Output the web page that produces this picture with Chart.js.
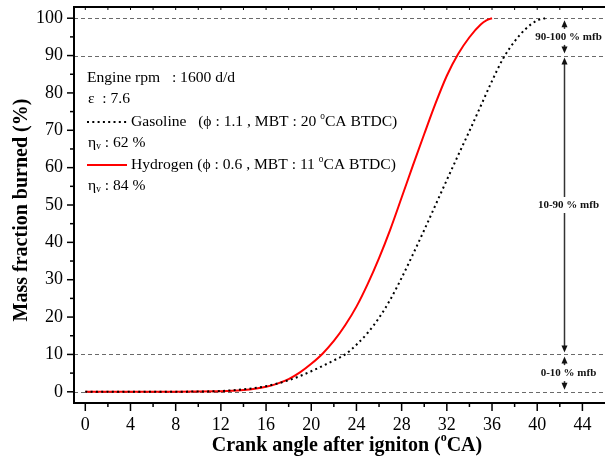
<!DOCTYPE html>
<html><head><meta charset="utf-8">
<script src="https://cdn.jsdelivr.net/npm/chart.js@4.4.0/dist/chart.umd.min.js"></script>
<style>html,body{margin:0;padding:0;background:#fff;overflow:hidden}</style>
</head><body>
<canvas id="c" width="605" height="459"></canvas>
<script>
// ---- data ----
const hydrogenAngles = [0,2,4,6,8,10,12,13,14,15,16,17,18,19,20,21,22,23,24,25,26,27,28,29,30,31,32,33,34,35,35.5,36];
const hydrogenMfb    = [0,0,0,0,0,0.05,0.15,0.25,0.45,0.8,1.35,2.2,3.4,5.2,7.5,10.2,13.6,17.8,22.8,28.9,35.8,43.5,52.0,60.6,69.0,77.2,84.6,90.4,94.9,98.3,99.4,100];
const gasolineAngles = [0,2,4,6,8,10,12,13,14,15,16,17,18,19,20,21,22,23,24,25,26,27,28,29,30,31,32,33,34,35,36,37,38,39,40,40.7];
const gasolineMfb    = [0,0,0,0,0.02,0.08,0.2,0.4,0.65,1.0,1.5,2.2,3.1,4.2,5.5,6.9,8.4,10.0,12.6,15.8,19.8,24.7,30.5,36.8,43.3,50.0,56.7,63.3,69.8,76.5,83.2,89.3,93.8,97.2,99.4,100];
const xTickLabels = [0,4,8,12,16,20,24,28,32,36,40,44];
const xMinorTicks = [2,6,10,14,18,22,26,30,34,38,42];
const yTickLabels = [0,10,20,30,40,50,60,70,80,90,100];
const yMinorTicks = [5,15,25,35,45,55,65,75,85,95];
const refLines = [0,10,90,100];
const phaseBands = [[100,90,'90-100 % mfb'],[90,10,'10-90 % mfb'],[10,0,'0-10 % mfb']];
const bandAngle = 42.4;

const SERIF = '"Liberation Serif","Times New Roman",serif';

function drawRich(ctx, x, y, parts, size, weight){
  let cx = x;
  parts.forEach(p=>{
    let s = size, dy = 0;
    if (p.sup){ s = size*0.6; dy = -size*0.38; }
    if (p.sub){ s = size*0.6; dy = size*0.25; }
    ctx.font = (weight||'normal')+' '+s+'px '+SERIF;
    ctx.fillText(p.t, cx, y+dy);
    cx += ctx.measureText(p.t).width;
  });
  return cx;
}
function richWidth(ctx, parts, size, weight){
  let w=0;
  parts.forEach(p=>{
    const s = (p.sup||p.sub)? size*0.6 : size;
    ctx.font = (weight||'normal')+' '+s+'px '+SERIF;
    w += ctx.measureText(p.t).width;
  });
  return w;
}

const deco = {
  id:'deco',
  beforeDatasetsDraw(chart){
    const {ctx, chartArea:a, scales:{y}} = chart;
    ctx.save();
    ctx.strokeStyle='#6a6a6a'; ctx.lineWidth=1; ctx.setLineDash([4,3]);
    refLines.forEach(v=>{
      const py = Math.round(y.getPixelForValue(v))+0.5;
      ctx.beginPath(); ctx.moveTo(a.left,py); ctx.lineTo(a.right,py); ctx.stroke();
    });
    ctx.restore();
  },
  afterDraw(chart){
    const {ctx, chartArea:a, scales:{x,y}} = chart;
    ctx.save();
    // frame
    ctx.strokeStyle='#000'; ctx.lineWidth=2; ctx.setLineDash([]);
    ctx.beginPath();
    ctx.moveTo(a.right+2, a.top); ctx.lineTo(a.left, a.top); ctx.lineTo(a.left, a.bottom); ctx.lineTo(a.right+2, a.bottom);
    ctx.stroke();
    // ticks
    ctx.lineWidth=1.5;
    const tick=(x1,y1,x2,y2)=>{ctx.beginPath();ctx.moveTo(x1,y1);ctx.lineTo(x2,y2);ctx.stroke();};
    yTickLabels.forEach(v=>{const p=y.getPixelForValue(v); tick(a.left,p,a.left-7,p);});
    yMinorTicks.forEach(v=>{const p=y.getPixelForValue(v); tick(a.left,p,a.left-4,p);});
    xTickLabels.forEach(v=>{const p=x.getPixelForValue(v); tick(p,a.bottom,p,a.bottom+8);});
    xMinorTicks.forEach(v=>{const p=x.getPixelForValue(v); tick(p,a.bottom,p,a.bottom+4);});
    ctx.lineWidth=1;
    xTickLabels.concat(xMinorTicks).forEach(v=>{const p=x.getPixelForValue(v); tick(p,a.top,p,a.top+3);});

    // phase bands with double arrows
    const bx = Math.round(x.getPixelForValue(bandAngle))+0.5;
    ctx.strokeStyle='#333'; ctx.fillStyle='#111'; ctx.lineWidth=1.5;
    ctx.textAlign='center'; ctx.textBaseline='middle';
    ctx.font='bold 11px '+SERIF;
    const head=(px,py,dir)=>{ // dir -1 up, +1 down ; tip at py
      ctx.beginPath(); ctx.moveTo(px,py); ctx.lineTo(px-3,py-dir*7); ctx.lineTo(px+3,py-dir*7); ctx.closePath(); ctx.fill();
    };
    phaseBands.forEach(([hi,lo,label])=>{
      const pt = y.getPixelForValue(hi)+2, pb = y.getPixelForValue(lo)-2;
      const pm = (pt+pb)/2;
      tick(bx,pt+4,bx,pm-8); tick(bx,pm+8,bx,pb-4);
      head(bx,pt,-1); head(bx,pb,1);
      ctx.fillText(label, bx+4, pm);
    });

    // legend block
    ctx.fillStyle='#000'; ctx.textAlign='left'; ctx.textBaseline='middle';
    const L=87, fs=15.6;
    drawRich(ctx, L, 78, [{t:'Engine rpm   : 1600 d/d'}], fs);
    drawRich(ctx, L+1, 99, [{t:'\u03b5  : 7.6'}], fs);
    ctx.strokeStyle='#000'; ctx.lineWidth=2; ctx.setLineDash([2,3.3]);
    tick(L,122,L+41,122);
    ctx.setLineDash([]);
    drawRich(ctx, 131, 122, [{t:'Gasoline   (\u03d5 : 1.1 , MBT : 20 '},{t:'o',sup:true},{t:'CA BTDC)'}], fs);
    drawRich(ctx, L+1, 143, [{t:'\u03b7'},{t:'v',sub:true},{t:' : 62 %'}], fs);
    ctx.strokeStyle='#ff0000'; ctx.lineWidth=2;
    tick(L,165,L+40,165);
    drawRich(ctx, 131, 165, [{t:'Hydrogen (\u03d5 : 0.6 , MBT : 11 '},{t:'o',sup:true},{t:'CA BTDC)'}], fs);
    drawRich(ctx, L+1, 186, [{t:'\u03b7'},{t:'v',sub:true},{t:' : 84 %'}], fs);

    // axis titles
    const tfs=20;
    const xt=[{t:'Crank angle after igniton ('},{t:'o',sup:true},{t:'CA)'}];
    const w=richWidth(ctx,xt,tfs,'bold');
    drawRich(ctx, 347-w/2, 446, xt, tfs, 'bold');
    ctx.translate(22,210); ctx.rotate(-Math.PI/2);
    ctx.textAlign='center'; ctx.font='bold '+tfs+'px '+SERIF;
    ctx.fillText('Mass fraction burned (%)',0,0);
    ctx.restore();
  }
};

const toPts=(xs,ys)=>xs.map((v,i)=>({x:v,y:ys[i]}));
const noPad=s=>{s.paddingTop=0;s.paddingBottom=0;s.paddingLeft=0;s.paddingRight=0;};

new Chart(document.getElementById('c'),{
  type:'line',
  data:{datasets:[
    {label:'Gasoline',data:toPts(gasolineAngles,gasolineMfb),borderColor:'#000',borderWidth:2,borderDash:[2,3.3],pointRadius:0,cubicInterpolationMode:'monotone',fill:false},
    {label:'Hydrogen',data:toPts(hydrogenAngles,hydrogenMfb),borderColor:'#ff0000',borderWidth:2,pointRadius:0,cubicInterpolationMode:'monotone',fill:false}
  ]},
  options:{
    responsive:false, animation:false, devicePixelRatio:1,
    layout:{padding:{top:7,right:0,left:0,bottom:0}},
    plugins:{legend:{display:false},tooltip:{enabled:false}},
    scales:{
      x:{type:'linear',min:-1,max:46,
        grid:{display:false,drawTicks:false},border:{display:false},
        ticks:{color:'#000',font:{family:SERIF,size:18},padding:11,maxRotation:0,callback:v=>v},
        afterBuildTicks:s=>{s.ticks=xTickLabels.map(v=>({value:v}));},
        afterFit:s=>{s.height=56;noPad(s);}},
      y:{type:'linear',min:-3,max:103,
        grid:{display:false,drawTicks:false},border:{display:false},
        ticks:{color:'#000',font:{family:SERIF,size:18},padding:11,callback:v=>v},
        afterBuildTicks:s=>{s.ticks=yTickLabels.map(v=>({value:v}));},
        afterFit:s=>{s.width=74;noPad(s);}}
    }
  },
  plugins:[deco]
});
</script>
</body></html>
